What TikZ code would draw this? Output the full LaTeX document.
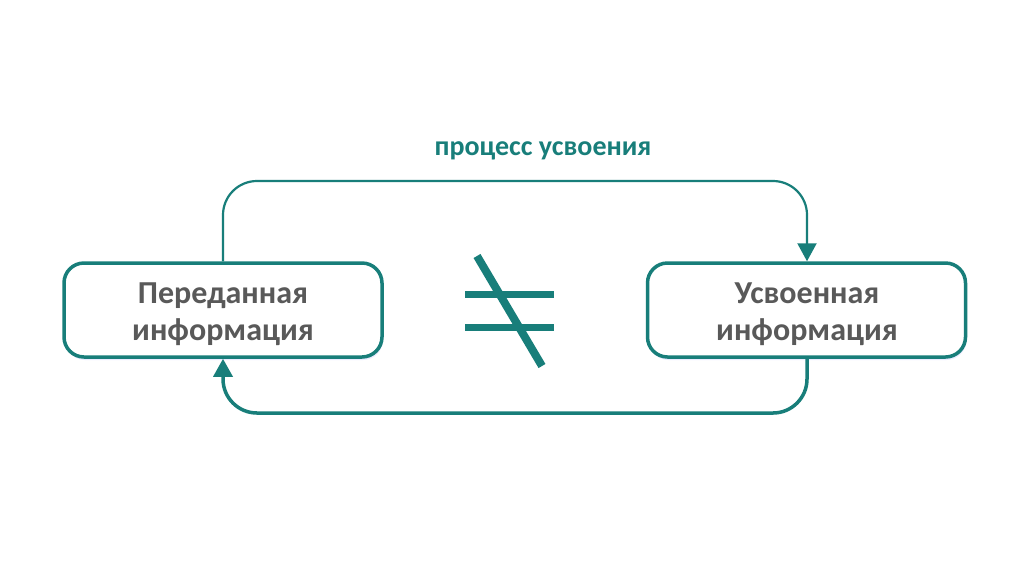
\documentclass[tikz,border=0pt]{standalone}
\usepackage{fontspec}
\setmainfont{Carlito}
\usetikzlibrary{arrows.meta,shadows}
\definecolor{teal1}{RGB}{24,126,122}
\definecolor{txtgray}{RGB}{89,89,89}
\tikzset{
  infobox/.style={draw=teal1,line width=3.5pt,rounded corners=20pt,fill=white,
    minimum width=318pt,minimum height=94pt,align=center,text=txtgray,
    font=\fontsize{32}{37}\selectfont\bfseries,
    drop shadow={shadow xshift=1pt,shadow yshift=-3pt,fill=blue!15,opacity=0.5}},
  flow/.style={draw=teal1,rounded corners=34pt,-{Triangle[length=18pt,width=19pt]}},
  bar/.style={draw=teal1,line width=7pt},
}
\begin{document}
\begin{tikzpicture}[x=1pt,y=-1pt]
\useasboundingbox (0,0) rectangle (1024,574);
\fill[white] (0,0) rectangle (1024,574);
\node[infobox] (A) at (223,310) {};
\node[infobox] (B) at (806.5,310) {};
\node[align=center,text=txtgray,font=\fontsize{32}{37}\selectfont\bfseries] (At) at (223,314) {Переданная\\информация};
\node[align=center,text=txtgray,font=\fontsize{32}{37}\selectfont\bfseries] (Bt) at (807,314) {Усвоенная\\информация};
\coordinate (t1) at (223,181);
\coordinate (t2) at (807,181);
\coordinate (b1) at (807,413);
\coordinate (b2) at (223,413);
\draw[flow,line width=2.2pt] (A.north) -- (t1) -- (t2) -- (B.north -| t2);
\draw[flow,line width=3.5pt] (B.south -| b1) -- (b1) -- (b2) -- (A.south);
\node[text=teal1,font=\fontsize{28}{32}\selectfont\bfseries] (L) at (543,151) {процесс усвоения};
\coordinate (h1a) at (465,294); \coordinate (h1b) at (554,294);
\coordinate (h2a) at (465,327); \coordinate (h2b) at (554,327);
\coordinate (da) at (477,256); \coordinate (db) at (542,366);
\draw[bar] (h1a) -- (h1b);
\draw[bar] (h2a) -- (h2b);
\draw[bar,line width=8pt] (da) -- (db);
\end{tikzpicture}
\end{document}
